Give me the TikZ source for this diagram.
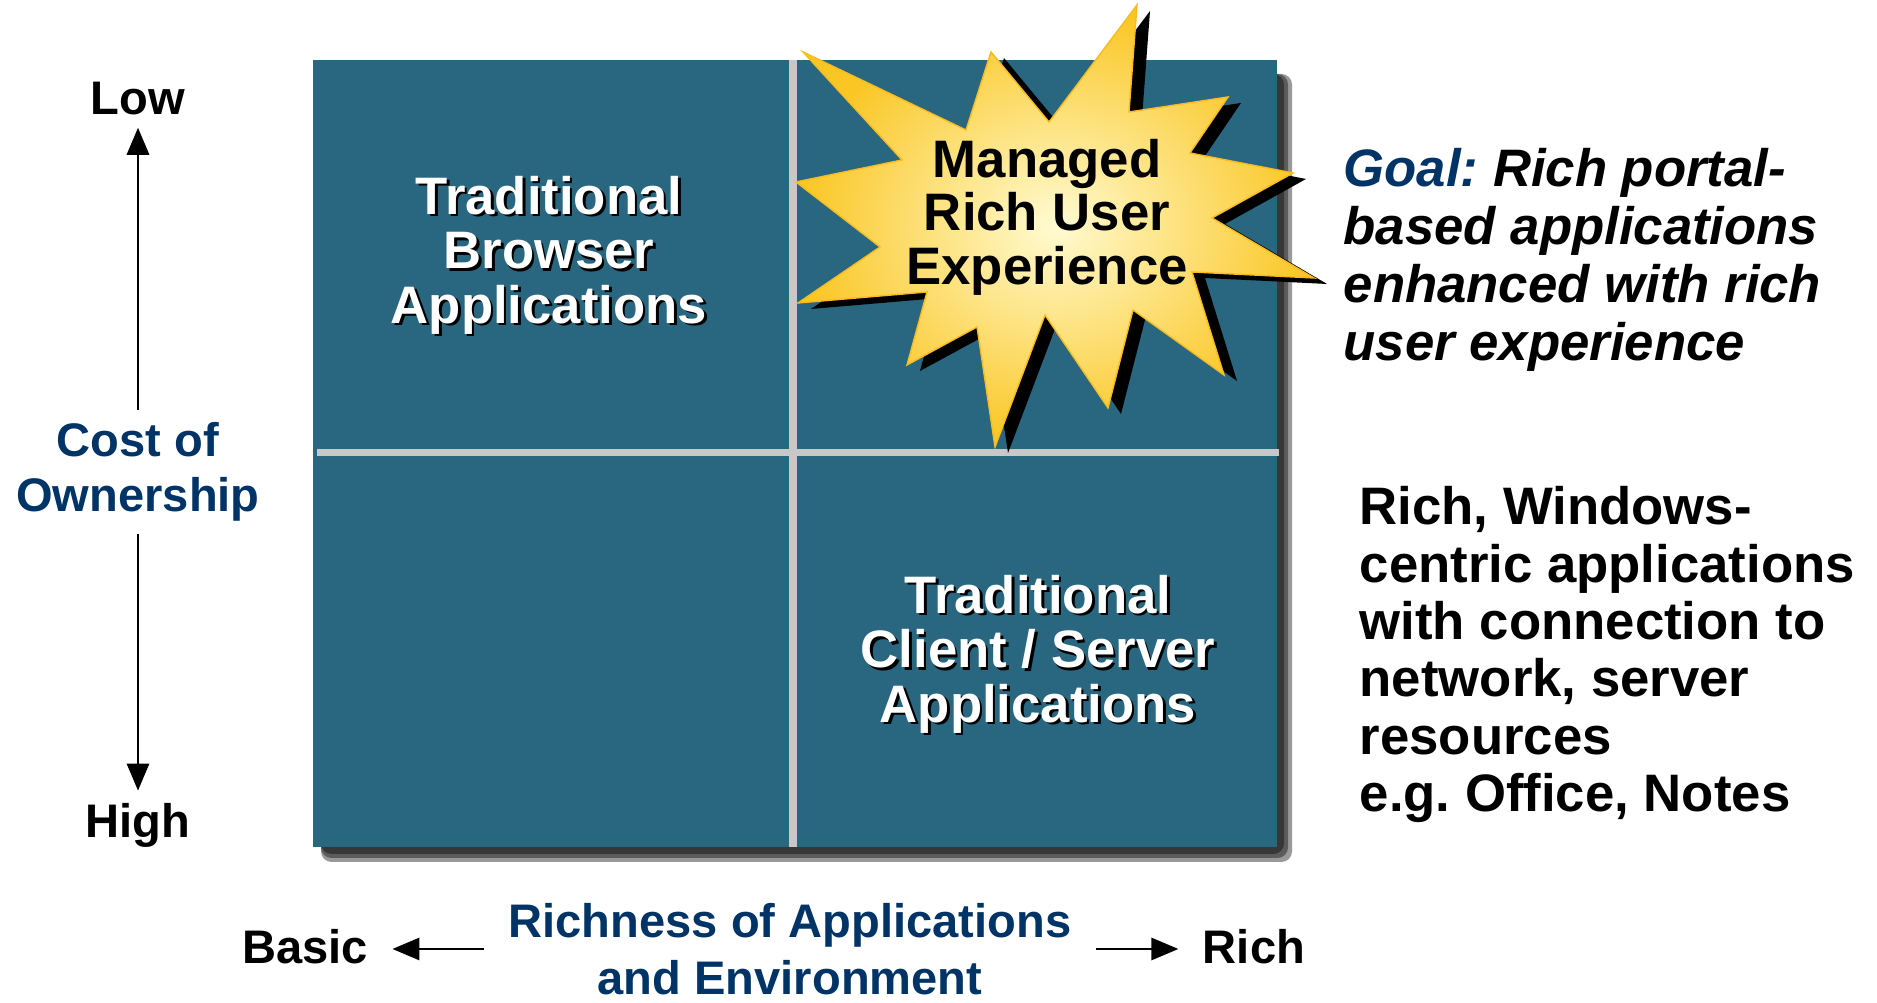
\documentclass[tikz,border=0pt]{standalone}
\usepackage{fontspec}
\setmainfont{Liberation Sans}
\usetikzlibrary{arrows}
\definecolor{boxblue}{RGB}{41,103,128}
\definecolor{divgrey}{RGB}{200,200,200}
\definecolor{navy}{RGB}{0,51,102}
\definecolor{stargold}{RGB}{250,198,35}
\definecolor{starcream}{RGB}{255,251,210}
\def\starpath{(11.37,9.98) -- (11.29,8.91) -- (12.28,9.06) -- (11.90,8.50) -- (12.93,8.30) -- (12.12,7.85) -- (13.14,7.25) -- (11.92,7.31) -- (12.24,6.28) -- (11.33,6.93) -- (11.08,5.95) -- (10.45,6.88) -- (9.95,5.56) -- (9.77,6.76) -- (9.07,6.38) -- (9.27,7.11) -- (7.98,7.00) -- (8.80,7.56) -- (7.96,8.21) -- (9.02,8.43) -- (8.03,9.51) -- (9.66,8.73) -- (9.91,9.51) -- (10.49,8.81) -- cycle}

\begin{document}
\begin{tikzpicture}[
  quadtext/.style={white, font=\fontsize{15}{15.5}\selectfont\bfseries, align=center},
  quadshade/.style={black, font=\fontsize{15}{15.5}\selectfont\bfseries, align=center},
  axistext/.style={font=\fontsize{13.4}{15.7}\selectfont\bfseries, align=center},
  sidetext/.style={font=\fontsize{15}{16.3}\selectfont\bfseries\frenchspacing, align=left, anchor=north west, inner sep=0pt},
  axisarrow/.style={-triangle 45, line width=0.75pt}
]
\useasboundingbox (0,0) rectangle (18.77,10.03);
% box with its shadow
\foreach \d in {0.07,0.11,0.15}
  \fill[black, opacity=0.4, rounded corners=3pt] (3.21,1.56-\d) rectangle (12.77+\d,9.29);
\fill[boxblue] (3.13,1.56) rectangle (12.77,9.43);
\draw[divgrey, line width=2pt] (7.93,9.43) -- (7.93,1.56);
\draw[divgrey, line width=2pt] (3.17,5.50) -- (12.79,5.50);
% quadrant labels
\node[quadshade] (tbaS) at (5.515,7.455) {Traditional\\Browser\\Applications};
\node[quadtext] (tba) at (5.49,7.48) {Traditional\\Browser\\Applications};
\node[quadshade] (tcsS) at (10.405,3.465) {Traditional\\Client / Server\\Applications};
\node[quadtext] (tcs) at (10.38,3.49) {Traditional\\Client / Server\\Applications};
% the star
\fill[black, shift={(0.13,-0.06)}] \starpath;
\shadedraw[draw=stargold!85!orange, line width=0.4pt, inner color=starcream, outer color=stargold] \starpath;
\node[font=\fontsize{15}{15.2}\selectfont\bfseries, align=center] (mrux) at (10.47,7.86) {Managed\\Rich User\\Experience};
% cost axis
\node[axistext] (low) at (1.38,9.04) {Low};
\node[axistext] (high) at (1.38,1.78) {High};
\node[axistext, navy] (cost) at (1.38,5.31) {Cost of\\Ownership};
\draw[axisarrow] (cost) -- (low);
\draw[axisarrow] (cost) -- (high);
% richness axis
\node[axistext, inner xsep=0.24cm] (basic) at (3.05,0.56) {Basic};
\node[axistext, inner xsep=0.24cm] (rich) at (12.54,0.56) {Rich};
\node[axistext, navy, inner xsep=0.24cm, font=\fontsize{13.4}{16.2}\selectfont\bfseries] (richness) at (7.90,0.54) {Richness of Applications\\and Environment};
\draw[axisarrow] (richness.west) -- (richness.west -| basic.east);
\draw[axisarrow] (richness.east) -- (richness.east -| rich.west);
% side notes
\node[sidetext, font=\fontsize{15}{16.5}\selectfont\bfseries\itshape\frenchspacing] (goal) at (13.43,8.555) {\textcolor{navy}{Goal:} Rich portal-\\based applications\\enhanced with rich\\user experience};
\node[sidetext] (rwc) at (13.59,5.17) {Rich, Windows-\\centric applications\\with connection to\\network, server\\resources\\e.g. Office, Notes};
\end{tikzpicture}
\end{document}
